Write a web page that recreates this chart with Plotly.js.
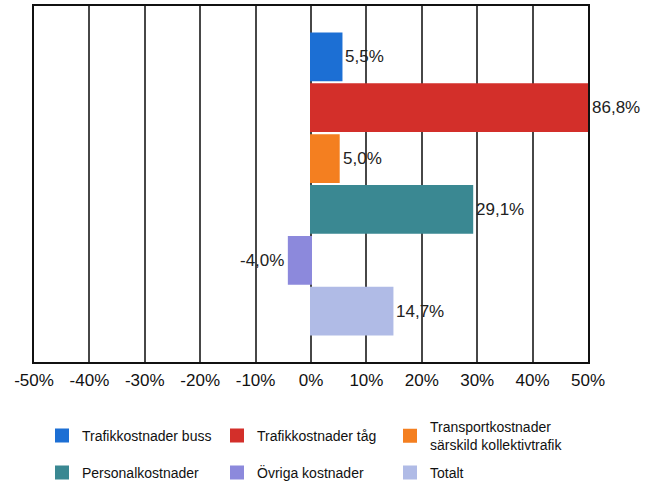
<!DOCTYPE html>
<html>
<head>
<meta charset="utf-8">
<script src="https://cdn.plot.ly/plotly-3.0.1.min.js"></script>
<style>html,body{margin:0;padding:0;background:#fff;}#chart{width:655px;height:485px;}</style>
</head>
<body>
<div id="chart"></div>
<script>
const seriesNames = ["Trafikkostnader buss", "Trafikkostnader tåg", "Transportkostnader<br>särskild kollektivtrafik", "Personalkostnader", "Övriga kostnader", "Totalt"];
const seriesValues = [5.5, 86.8, 5.0, 29.1, -4.0, 14.7];
const seriesColors = ["#1c6fd4", "#d32f2a", "#f47f20", "#3a8892", "#8c89dc", "#b0bbe6"];
const xTickValues = [-50, -40, -30, -20, -10, 0, 10, 20, 30, 40, 50];
const xTickLabels = ["-50%", "-40%", "-30%", "-20%", "-10%", "0%", "10%", "20%", "30%", "40%", "50%"];

const xMin = -50, xMax = 50;
const W = 655, H = 485;

// legend placement (3 columns x 2 rows), in pixels
const legendCols = [42, 217, 390];
const legendRows = [436, 473];

const legendIds = ['legend', 'legend2', 'legend3', 'legend4', 'legend5', 'legend6'];

const traces = seriesNames.map((name, i) => ({
  type: 'bar',
  orientation: 'h',
  name: name,
  x: [seriesValues[i]],
  y: [i],
  width: 0.92,
  legend: legendIds[i],
  marker: {color: seriesColors[i], line: {color: seriesColors[i], width: 2}},
  hoverinfo: 'none'
}));

const fmt = v => v.toFixed(1).replace('.', ',') + '%';
const annotations = seriesValues.map((v, i) => ({
  x: Math.max(Math.min(v, xMax), xMin),
  y: i,
  xref: 'x', yref: 'y',
  text: fmt(v),
  showarrow: false,
  xanchor: v >= 0 ? 'left' : 'right',
  yanchor: 'middle',
  xshift: v >= 0 ? 2 : -3,
  font: {family: 'Liberation Sans, Arial, sans-serif', size: 17, color: '#222'}
}));

const layout = {
  width: W, height: H,
  margin: {l: 34, r: 67, t: 6, b: 123, autoexpand: false},
  paper_bgcolor: '#fff', plot_bgcolor: '#fff',
  barmode: 'overlay',
  showlegend: true,
  font: {family: 'Liberation Sans, Arial, sans-serif', color: '#111'},
  xaxis: {
    range: [xMin, xMax],
    tickvals: xTickValues,
    ticktext: xTickLabels,
    showgrid: true, gridcolor: '#474747', gridwidth: 2,
    zeroline: true, zerolinecolor: '#474747', zerolinewidth: 2,
    showline: true, linecolor: '#111', linewidth: 2, mirror: true,
    ticks: '',
    ticklabelstandoff: 2,
    tickfont: {size: 17, color: '#111'},
    automargin: false,
    fixedrange: true
  },
  yaxis: {
    range: [6, -1],
    showgrid: false, zeroline: false, showticklabels: false, ticks: '',
    showline: true, linecolor: '#111', linewidth: 2, mirror: true,
    automargin: false,
    fixedrange: true
  },
  annotations: annotations
};

legendIds.forEach((id, i) => {
  const col = i % 3, row = Math.floor(i / 3);
  layout[id] = {
    xref: 'container', yref: 'container',
    x: legendCols[col] / W, y: 1 - legendRows[row] / H,
    xanchor: 'left', yanchor: 'middle',
    valign: 'middle',
    bgcolor: 'rgba(0,0,0,0)',
    font: {size: 14, color: '#111'}
  };
});

Plotly.newPlot('chart', traces, layout, {displayModeBar: false, staticPlot: true});
</script>
</body>
</html>
